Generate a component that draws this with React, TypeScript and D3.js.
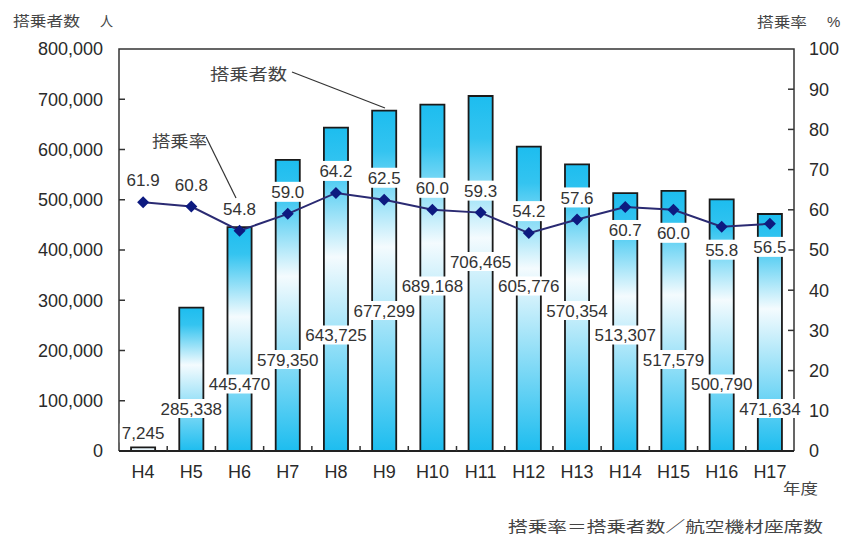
import React from 'react';
import * as d3 from 'd3';

const years = ['H4', 'H5', 'H6', 'H7', 'H8', 'H9', 'H10', 'H11', 'H12', 'H13', 'H14', 'H15', 'H16', 'H17'];
const passengers = [7245, 285338, 445470, 579350, 643725, 677299, 689168, 706465, 605776, 570354, 513307, 517579, 500790, 471634];
const loadFactor = [61.9, 60.8, 54.8, 59.0, 64.2, 62.5, 60.0, 59.3, 54.2, 57.6, 60.7, 60.0, 55.8, 56.5];
const leftTicks = [0, 100000, 200000, 300000, 400000, 500000, 600000, 700000, 800000];
const rightTicks = [0, 10, 20, 30, 40, 50, 60, 70, 80, 90, 100];

const W = 843;
const H = 536;
const PL = 119, PR = 794, PT = 49, PB = 451;
const NUM_FONT = '"Liberation Sans", Arial, sans-serif';
const CJK_FONT = '"Noto Sans CJK JP", sans-serif';
const CYAN = '#1DBDEF';

function textWidth(s: string, fs: number) {
  let w = 0;
  for (const c of s) {
    if (c === ',' || c === '.') w += 0.278;
    else if (c === 'H') w += 0.722;
    else w += 0.556;
  }
  return w * fs;
}

export default function App() {
  const x = d3.scaleBand().domain(years).range([PL, PR]).paddingInner(0.5).paddingOuter(0.25);
  const band = d3.scaleBand().domain(years).range([PL, PR]);
  const yL = d3.scaleLinear().domain([0, 800000]).range([PB, PT]);
  const yR = d3.scaleLinear().domain([0, 100]).range([PB, PT]);
  const fmt = d3.format(',');
  const cx = (i: number) => (band(years[i]) as number) + band.bandwidth() / 2;

  const line = d3.line<number>()
    .x((_, i) => cx(i))
    .y((d) => yR(d));

  const countFs = 17;
  const rateFs = 17;

  return (
    <svg width={W} height={H} style={{ position: 'absolute', left: 0, top: 0, background: '#fff' }}>
      <defs>
        <linearGradient id="barGrad" x1="0" y1="0" x2="0" y2="1">
          <stop offset="0%" stopColor={CYAN} />
          <stop offset="12%" stopColor="#34C4F0" />
          <stop offset="40%" stopColor="#F4FBFE" />
          <stop offset="100%" stopColor={CYAN} />
        </linearGradient>
      </defs>
      <rect x={0} y={0} width={W} height={H} fill="#fff" />

      {/* bars */}
      {passengers.map((v, i) => {
        const bx = x(years[i]) as number;
        const bw = x.bandwidth();
        const top = yL(v);
        return (
          <g key={'bar' + i}>
            <rect x={bx} y={top} width={bw} height={PB - top} fill={v < 20000 ? '#EAF7FD' : 'url(#barGrad)'} />
            <path d={`M${bx},${PB}V${top}H${bx + bw}V${PB}`} fill="none" stroke="#1a1a1a" strokeWidth={1.8} />
          </g>
        );
      })}

      {/* frame */}
      <path d={`M${PL},${PB}V${PT}H${PR}V${PB}`} fill="none" stroke="#333" strokeWidth={1.5} />
      <line x1={PL} x2={PR} y1={PB} y2={PB} stroke="#222" strokeWidth={2} />

      {/* left axis */}
      {leftTicks.map((t) => (
        <g key={'lt' + t}>
          {t > 0 && t < 800000 && <line x1={PL} x2={PL + 6} y1={yL(t)} y2={yL(t)} stroke="#333" strokeWidth={1.5} />}
          <text x={103} y={yL(t)} dy="0.36em" textAnchor="end" fontFamily={NUM_FONT} fontSize={18} fill="#2a2a2a">{fmt(t)}</text>
        </g>
      ))}
      {/* right axis */}
      {rightTicks.map((t) => (
        <g key={'rt' + t}>
          {t > 0 && t < 100 && <line x1={PR - 6} x2={PR} y1={yR(t)} y2={yR(t)} stroke="#333" strokeWidth={1.5} />}
          <text x={809} y={yR(t)} dy="0.36em" textAnchor="start" fontFamily={NUM_FONT} fontSize={18} fill="#2a2a2a">{t}</text>
        </g>
      ))}
      {/* bottom ticks */}
      {years.slice(1).map((yr) => (
        <line key={'bt' + yr} x1={band(yr) as number} x2={band(yr) as number} y1={PB} y2={PB - 5} stroke="#333" strokeWidth={1.5} />
      ))}
      {years.map((yr, i) => (
        <text key={'xl' + yr} x={cx(i)} y={472} dy="0.36em" textAnchor="middle" fontFamily={NUM_FONT} fontSize={18} fill="#2a2a2a">{yr}</text>
      ))}

      {/* passenger labels */}
      {passengers.map((v, i) => {
        const level = i <= 7 ? i : 14 - i;
        const ly = 433 - level * 24.5;
        const s = fmt(v);
        const tw = textWidth(s, countFs);
        return (
          <g key={'pl' + i}>
            <rect x={cx(i) - tw / 2 - 2} y={ly - 9.5} width={tw + 4} height={19} fill="#fff" />
            <text x={cx(i)} y={ly} dy="0.36em" textAnchor="middle" fontFamily={NUM_FONT} fontSize={countFs} fill="#333">{s}</text>
          </g>
        );
      })}

      {/* rate labels */}
      {loadFactor.map((v, i) => {
        const ly = i < 10 ? yR(v) - 22 : yR(v) + 23;
        const s = v.toFixed(1);
        const tw = textWidth(s, rateFs);
        return (
          <g key={'rl' + i}>
            <rect x={cx(i) - tw / 2 - 2} y={ly - 10} width={tw + 4} height={20} fill="#fff" />
            <text x={cx(i)} y={ly} dy="0.36em" textAnchor="middle" fontFamily={NUM_FONT} fontSize={rateFs} fill="#333">{s}</text>
          </g>
        );
      })}

      {/* rate line */}
      <path d={line(loadFactor) as string} fill="none" stroke="#2A2A72" strokeWidth={2} />
      {loadFactor.map((v, i) => {
        const px = cx(i), py = yR(v), r = 6;
        return <path key={'mk' + i} d={`M${px},${py - r}L${px + r},${py}L${px},${py + r}L${px - r},${py}Z`} fill="#0D1A80" />;
      })}

      {/* annotations */}
      <text x={210} y={74} dy="0.36em" fontFamily={CJK_FONT} fontSize={16} textLength={77} lengthAdjust="spacingAndGlyphs" fill="#444">搭乗者数</text>
      <path d="M292,72L385,108" fill="none" stroke="#333" strokeWidth={1.2} />
      <text x={152} y={141} dy="0.36em" fontFamily={CJK_FONT} fontSize={16} textLength={55} lengthAdjust="spacingAndGlyphs" fill="#444">搭乗率</text>
      <path d="M206,137L236,198" fill="none" stroke="#333" strokeWidth={1.2} />

      {/* titles */}
      <text x={13} y={21} dy="0.36em" fontFamily={CJK_FONT} fontSize={14} textLength={67} lengthAdjust="spacingAndGlyphs" fill="#444">搭乗者数</text>
      <text x={100} y={21} dy="0.36em" fontFamily={CJK_FONT} fontSize={14} textLength={13} lengthAdjust="spacingAndGlyphs" fill="#444">人</text>
      <text x={757} y={22} dy="0.36em" fontFamily={CJK_FONT} fontSize={14} textLength={50} lengthAdjust="spacingAndGlyphs" fill="#444">搭乗率</text>
      <text x={827} y={22} dy="0.36em" fontFamily={NUM_FONT} fontSize={15} fill="#444">%</text>
      <text x={783} y={489} dy="0.36em" fontFamily={CJK_FONT} fontSize={15} textLength={35} lengthAdjust="spacingAndGlyphs" fill="#444">年度</text>
      <text x={508} y={527} dy="0.36em" fontFamily={CJK_FONT} fontSize={15} textLength={315} lengthAdjust="spacingAndGlyphs" fill="#444">搭乗率＝搭乗者数／航空機材座席数</text>
    </svg>
  );
}
